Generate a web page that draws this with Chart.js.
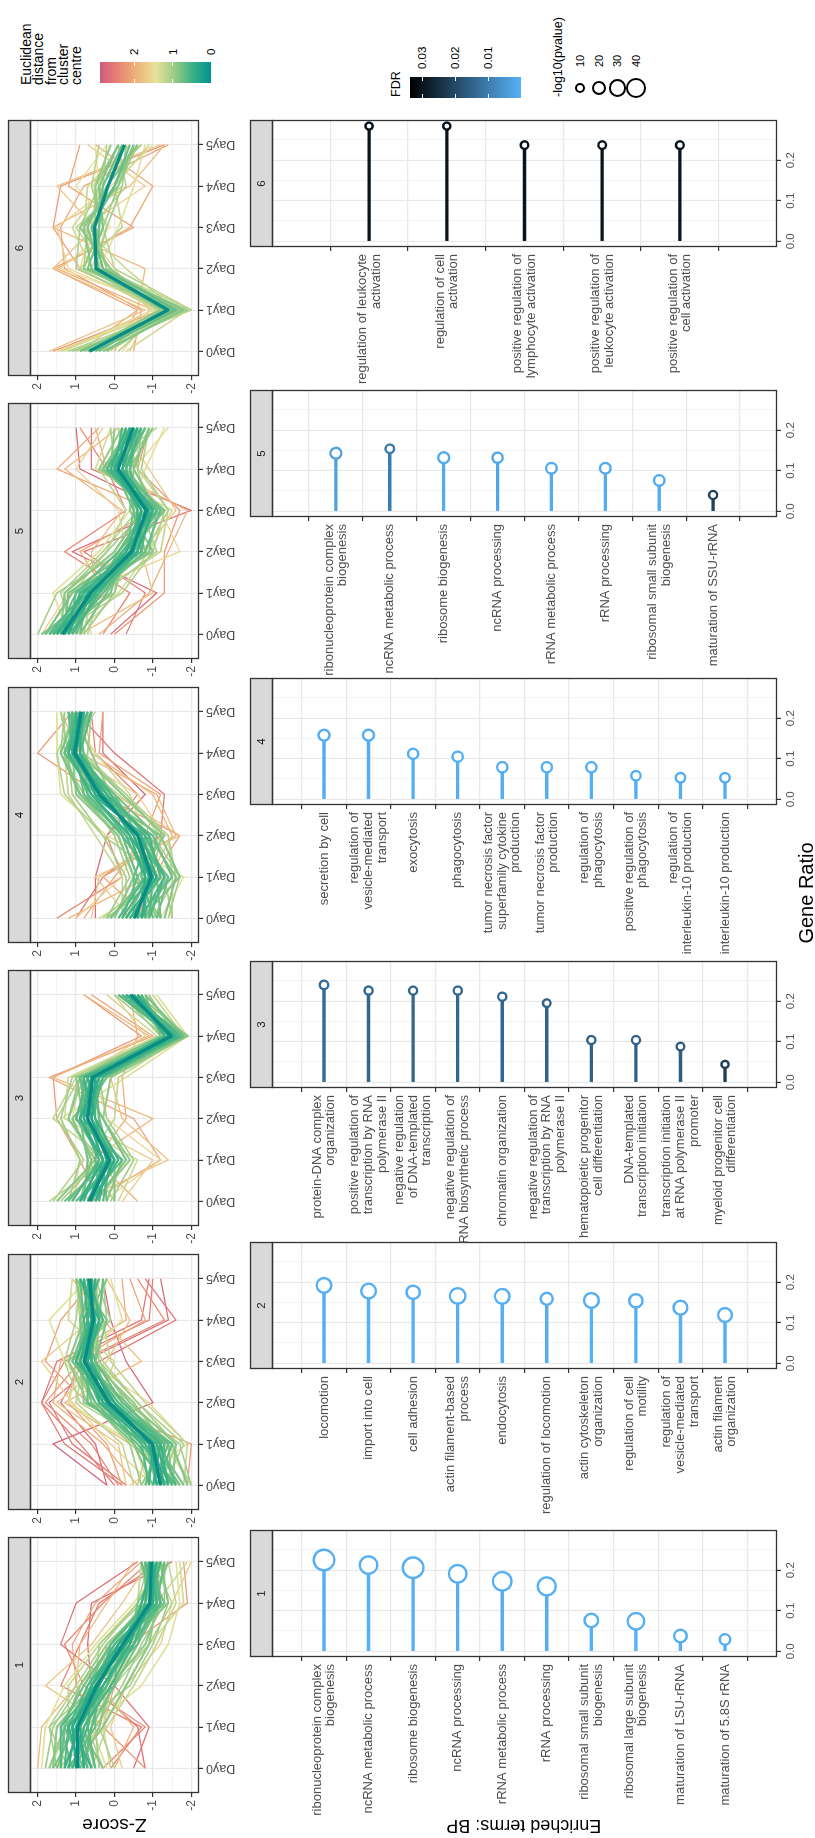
<!DOCTYPE html>
<html>
<head>
<meta charset="utf-8">
<script src="https://cdn.jsdelivr.net/npm/chart.js@4.4.0/dist/chart.umd.min.js"></script>
<style>
  html, body { margin: 0; padding: 0; background: #fff; }
  body { width: 815px; height: 1838px; overflow: hidden; position: relative; }
  /* the figure is laid out landscape and turned a quarter turn anticlockwise */
  #fig { position: absolute; left: 0; top: 0; width: 1838px; height: 815px;
         transform-origin: 0 0; transform: translateY(1838px) rotate(-90deg);
         font-family: "Liberation Sans", Arial, sans-serif; color: #000; background: #fff; }
  #fig canvas { position: absolute; }
  .t { position: absolute; white-space: nowrap; }
</style>
</head>
<body>
<div id="fig"></div>
<script>
// ---------------- data ----------------
const DAYS = ['Day0', 'Day1', 'Day2', 'Day3', 'Day4', 'Day5'];
const Z_TICKS = [-2, -1, 0, 1, 2];
const CLUSTERS = ['1', '2', '3', '4', '5', '6'];

// cluster centres (z-score per day)
const CENTRE_1 = [0.97, 0.96, 0.46, -0.22, -0.92, -0.96];
const CENTRE_2 = [-1.2, -0.98, 0.15, 0.78, 0.55, 0.65];
const CENTRE_3 = [0.65, 0.13, 0.7, 0.57, -1.48, -0.43];
const CENTRE_4 = [-0.52, -0.96, -0.61, 0.39, 1.04, 0.87];
const CENTRE_5 = [1.35, 0.62, -0.45, -0.83, -0.09, -0.48];
const CENTRE_6 = [0.65, -1.39, 0.48, 0.52, 0.17, -0.26];

// gene profiles: [distance from centre, z Day0 .. z Day5]
const GENES_1 = [
  [0.35, 1.0, 1.1, 0.5, -0.3, -1.0, -1.0], [0.4, 0.8, 0.9, 0.4, -0.1, -0.9, -1.1],
  [0.45, 1.2, 1.0, 0.6, -0.2, -1.0, -0.9], [0.5, 0.9, 1.2, 0.3, -0.4, -0.8, -0.9],
  [0.55, 1.1, 0.7, 0.6, 0.0, -1.1, -1.0], [0.6, 0.7, 1.0, 0.2, -0.3, -0.9, -1.2],
  [0.6, 1.3, 1.2, 0.7, -0.1, -1.0, -0.8], [0.65, 0.8, 0.6, 0.3, -0.5, -1.2, -1.0],
  [0.7, 1.4, 1.3, 0.4, -0.2, -0.7, -1.0], [0.7, 0.6, 0.9, 0.5, -0.5, -1.1, -1.3],
  [0.75, 1.1, 1.4, 0.8, 0.1, -0.8, -1.0], [0.8, 1.0, 0.6, 0.0, -0.6, -1.2, -1.1],
  [0.8, 1.5, 1.1, 0.7, 0.1, -0.8, -0.8], [0.85, 0.5, 0.8, 0.2, -0.3, -1.4, -1.2],
  [0.9, 1.6, 1.5, 0.6, -0.3, -1.0, -1.1], [0.9, 0.9, 0.4, 0.1, -0.8, -1.2, -0.9],
  [0.45, 1.3, 0.9, 0.3, -0.4, -0.7, -1.0], [0.5, 0.6, 1.1, 0.6, -0.1, -1.1, -0.9],
  [0.55, 1.0, 0.8, 0.1, -0.5, -0.9, -1.2], [0.6, 1.4, 1.4, 0.5, -0.2, -1.2, -1.0],
  [0.65, 0.5, 0.7, 0.4, 0.1, -0.9, -1.1], [0.7, 1.2, 0.5, 0.5, -0.6, -1.0, -0.7],
  [0.75, 0.8, 1.3, 0.0, -0.1, -1.3, -0.8], [0.8, 1.6, 1.0, 0.3, -0.4, -0.6, -1.2],
  [0.85, 0.3, 0.9, 0.6, -0.4, -1.0, -1.4], [0.9, 1.1, 0.3, -0.3, -0.9, -1.1, -1.1],
  [0.95, 1.7, 1.3, 0.9, 0.2, -0.9, -0.7], [1.0, 0.7, 1.0, -0.4, -1.0, -1.4, -1.2],
  [1.05, 1.5, 1.7, 0.5, 0.4, -0.7, -1.3], [1.1, 0.0, 0.4, 0.2, -0.5, -1.2, -1.0],
  [1.0, 1.8, 1.6, 0.9, 0.0, -0.8, -1.2], [1.0, 0.4, 0.5, -0.2, -0.7, -1.3, -1.3],
  [1.1, 1.2, 1.7, 1.0, 0.3, -0.6, -0.9], [1.1, 0.3, 0.7, 0.0, -0.9, -1.5, -1.0],
  [1.2, 1.7, 1.2, 1.2, 0.4, -0.6, -0.7], [1.2, 0.6, 0.2, -0.5, -1.1, -1.6, -1.4],
  [1.3, 1.4, 0.8, 0.2, -0.9, -1.8, -1.7], [1.3, 0.1, 0.3, 0.1, -0.6, -1.1, -1.9],
  [1.4, 1.9, 1.8, 1.3, 0.5, -0.5, -1.3], [1.4, 0.2, 0.6, -0.7, -1.4, -1.7, -1.6],
  [1.7, -0.2, 0.1, -0.3, -1.2, -1.5, -2.0], [1.8, 1.5, 0.2, 1.8, 0.6, -0.2, -0.9],
  [1.9, 2.0, 1.9, 1.0, 0.9, 0.2, -0.5], [2.0, 0.0, -0.5, 0.4, 0.2, -0.9, -1.2],
  [2.1, 1.2, 0.4, 1.0, 1.1, 0.5, -0.7], [2.2, -0.8, 0.3, 0.0, -0.4, -1.9, -1.8],
  [2.4, 0.3, -0.8, 0.8, 1.3, 0.3, -0.9], [2.6, -0.5, -0.9, 0.0, 1.4, 1.0, -0.6],
  [2.7, -0.8, -0.6, 0.6, 0.7, 0.6, -1.5], [2.5, 0.1, -0.7, 1.4, 0.9, 0.4, -1.2]
];
const GENES_2 = [
  [0.35, -1.3, -1.0, 0.2, 0.8, 0.6, 0.6], [0.4, -1.1, -0.9, 0.0, 0.7, 0.5, 0.7],
  [0.45, -1.4, -1.1, 0.3, 0.9, 0.6, 0.5], [0.5, -1.0, -1.2, 0.1, 0.6, 0.7, 0.8],
  [0.55, -1.5, -0.8, 0.2, 0.9, 0.4, 0.6], [0.6, -1.2, -1.3, -0.1, 0.7, 0.7, 0.5],
  [0.6, -0.9, -0.7, 0.4, 0.9, 0.5, 0.8], [0.65, -1.6, -1.2, 0.0, 0.6, 0.5, 0.7],
  [0.7, -1.3, -0.6, 0.5, 1.0, 0.6, 0.5], [0.7, -1.0, -1.4, -0.2, 0.5, 0.8, 0.9],
  [0.75, -1.7, -1.0, 0.3, 1.1, 0.7, 0.6], [0.8, -0.8, -1.1, 0.1, 0.5, 0.2, 0.9],
  [0.8, -1.4, -0.5, 0.6, 0.8, 0.9, 0.4], [0.85, -1.9, -1.5, -0.2, 0.7, 0.5, 0.6],
  [0.9, -1.1, -0.8, 0.7, 1.2, 0.8, 1.0], [0.9, -1.5, -1.6, -0.4, 0.5, 0.4, 0.5],
  [0.45, -1.2, -0.9, 0.4, 0.7, 0.4, 0.9], [0.5, -1.4, -1.2, 0.0, 1.0, 0.6, 0.7],
  [0.55, -0.9, -1.0, 0.3, 0.6, 0.8, 0.4], [0.6, -1.6, -0.7, 0.1, 0.8, 0.3, 0.7],
  [0.65, -1.1, -1.5, 0.2, 1.0, 0.7, 0.6], [0.7, -1.3, -0.8, 0.7, 0.7, 0.4, 0.3],
  [0.75, -0.8, -1.2, -0.3, 0.8, 0.6, 0.8], [0.8, -1.8, -1.1, 0.4, 0.5, 0.9, 0.6],
  [0.85, -1.0, -0.5, 0.0, 1.1, 0.3, 1.0], [0.9, -1.5, -1.4, 0.8, 0.9, 0.7, 0.2],
  [0.95, -0.7, -1.3, -0.5, 0.6, 0.5, 0.6], [1.0, -1.7, -0.6, 0.5, 1.2, 0.1, 0.5],
  [1.05, -1.2, -1.6, -0.6, 0.4, 0.8, 1.0], [1.1, -2.0, -1.4, 0.2, 0.9, 0.9, 0.9],
  [1.0, -0.7, -0.4, 0.6, 1.0, 0.2, 0.3], [1.0, -2.0, -1.7, -0.3, 0.4, 0.6, 0.8],
  [1.1, -1.3, -1.8, -0.6, 0.3, 0.9, 1.0], [1.1, -0.6, -0.9, 0.9, 1.3, 1.0, 0.9],
  [1.2, -1.8, -1.9, -0.8, 0.1, 0.3, 0.6], [1.2, -0.5, -0.2, 1.0, 0.8, 0.5, 0.2],
  [1.3, -1.2, -1.2, 0.4, 0.0, 1.2, 1.1], [1.4, -2.0, -1.3, 0.5, 1.3, 1.7, 0.7],
  [1.4, -0.9, -0.5, 1.2, 0.9, -0.2, 0.1], [1.6, -0.4, -1.9, -0.9, 0.7, 0.9, 0.8],
  [1.7, -1.0, 0.1, 1.1, 1.9, 0.6, 0.4], [1.8, -0.3, -0.1, 1.5, 0.2, -0.4, 0.2],
  [1.9, -1.6, -0.4, 1.3, -0.7, 0.3, 1.1], [2.0, -0.6, 0.3, 1.6, 1.4, -0.3, -0.2],
  [2.1, -0.2, 0.2, 1.2, 1.0, -0.8, -0.4], [2.2, -1.9, -2.0, 0.7, 1.8, 1.4, 0.5],
  [2.4, -0.1, 0.6, 1.8, 0.9, -1.3, -0.6], [2.5, 0.0, 0.9, 1.9, 1.3, -0.9, -1.0],
  [2.6, -0.3, 1.1, 1.7, 0.4, -1.6, -0.8], [2.7, 0.2, 0.5, 1.4, 0.8, -1.4, -1.2],
  [2.8, 0.2, 1.6, -1.0, -0.3, 0.1, 0.3], [2.6, -0.2, 1.3, 1.9, 1.5, -0.7, -0.9]
];
const GENES_3 = [
  [0.35, 0.7, 0.2, 0.6, 0.5, -1.5, -0.4], [0.4, 0.5, 0.0, 0.8, 0.6, -1.4, -0.5],
  [0.45, 0.9, 0.3, 0.7, 0.4, -1.6, -0.3], [0.5, 0.6, -0.1, 0.5, 0.7, -1.3, -0.6],
  [0.55, 0.8, 0.4, 0.9, 0.6, -1.7, -0.5], [0.6, 0.3, 0.1, 0.6, 0.3, -1.5, -0.2],
  [0.65, 1.0, 0.0, 0.9, 0.8, -1.4, -0.7], [0.7, 0.4, 0.5, 0.4, 0.5, -1.8, -0.4],
  [0.75, 1.2, 0.3, 1.0, 0.6, -1.5, -0.1], [0.8, 0.5, -0.3, 0.3, 0.9, -1.2, -0.8],
  [0.85, 0.9, 0.6, 1.1, 0.2, -1.6, -0.6], [0.9, 0.2, -0.2, 0.8, 1.0, -1.9, -0.3],
  [0.45, 0.6, 0.3, 0.9, 0.4, -1.4, -0.6], [0.5, 0.9, 0.0, 0.6, 0.8, -1.6, -0.3],
  [0.55, 0.4, 0.2, 0.5, 0.5, -1.3, -0.7], [0.6, 1.1, 0.4, 0.8, 0.3, -1.7, -0.4],
  [0.65, 0.7, -0.2, 1.0, 0.7, -1.5, -0.1], [0.7, 0.2, 0.3, 0.7, 0.9, -1.6, -0.6],
  [0.75, 1.3, 0.1, 0.4, 0.5, -1.3, -0.5], [0.8, 0.8, 0.7, 0.9, 0.2, -1.8, -0.8],
  [0.85, 0.0, 0.0, 0.5, 0.6, -1.4, -0.2], [0.9, 1.5, 0.5, 1.2, 0.9, -1.6, -0.4],
  [0.95, 0.5, -0.4, 0.3, 0.1, -1.9, -0.6], [1.0, 1.2, 0.9, 1.4, 1.1, -1.2, -0.2],
  [1.0, 1.4, 0.4, 1.2, 0.8, -1.3, 0.0], [1.0, 0.1, -0.5, 0.2, 0.4, -1.6, -0.9],
  [1.1, 1.6, 0.8, 1.5, 0.9, -1.4, -0.3], [1.2, 0.0, 0.7, 0.0, -0.1, -1.8, -1.0],
  [1.2, 1.7, 0.2, 1.6, 1.0, -1.2, -0.6], [1.3, -0.1, -0.6, 1.3, 1.2, -1.1, 0.2],
  [1.4, 1.1, 0.9, 1.4, -0.3, -1.9, -1.1], [1.6, 0.3, -1.2, 0.2, 0.5, -1.7, -0.8],
  [1.7, -0.2, -1.0, 1.1, 0.9, -0.8, 0.0], [1.8, 0.9, -1.4, -0.2, 0.1, -1.3, -0.9],
  [1.9, 1.2, 0.6, -1.0, 1.6, -0.9, 0.8], [2.0, -0.6, 0.5, -0.3, -0.2, -0.6, -0.4],
  [2.1, 0.6, -1.2, -0.5, 1.7, -1.0, 0.6], [2.2, 0.4, 0.9, 1.5, 1.6, -0.7, 0.8]
];
const GENES_4 = [
  [0.35, -0.5, -1.0, -0.6, 0.4, 1.1, 0.9], [0.4, -0.7, -0.9, -0.5, 0.3, 1.0, 0.8],
  [0.45, -0.3, -1.1, -0.7, 0.5, 1.0, 1.0], [0.5, -0.8, -0.8, -0.4, 0.6, 1.2, 0.9],
  [0.55, -0.4, -1.2, -0.9, 0.2, 0.9, 0.8], [0.6, -0.9, -1.3, -0.6, 0.4, 1.1, 1.1],
  [0.6, -0.1, -0.8, -0.3, 0.6, 1.2, 0.7], [0.65, -1.0, -0.7, -0.8, 0.1, 1.0, 1.0],
  [0.7, -0.6, -1.5, -1.0, 0.5, 1.3, 0.8], [0.7, -0.2, -0.6, -0.2, 0.8, 1.0, 0.9],
  [0.75, -1.2, -1.1, -0.5, 0.3, 0.8, 1.2], [0.8, -0.3, -0.9, -1.1, 0.0, 1.1, 0.6],
  [0.8, -0.8, -1.4, -0.3, 0.9, 1.4, 1.0], [0.85, -1.3, -1.6, -0.9, 0.2, 1.0, 0.9],
  [0.9, 0.0, -0.5, -0.1, 1.0, 1.1, 1.1], [0.9, -1.1, -0.6, -1.3, -0.2, 0.9, 0.7],
  [0.45, -0.6, -0.8, -0.7, 0.5, 0.9, 0.9], [0.5, -0.4, -1.1, -0.4, 0.2, 1.1, 0.8],
  [0.55, -0.7, -1.3, -0.8, 0.6, 1.2, 1.0], [0.6, -0.2, -0.9, -0.5, 0.1, 0.9, 0.6],
  [0.65, -0.9, -1.0, -0.2, 0.7, 1.1, 1.2], [0.7, -0.5, -0.5, -0.9, 0.3, 1.3, 0.9],
  [0.75, -1.1, -1.4, -0.6, 0.0, 1.0, 0.7], [0.8, 0.1, -0.8, -0.4, 0.7, 0.8, 1.0],
  [0.85, -0.7, -1.7, -1.2, 0.4, 1.2, 1.1], [0.9, -1.2, -0.5, -0.1, 0.9, 1.3, 0.6],
  [0.95, 0.2, -1.2, -0.9, 0.1, 0.6, 1.1], [1.0, -1.5, -1.3, -0.7, 0.8, 1.4, 1.3],
  [1.05, -0.3, -0.3, 0.3, 1.1, 1.2, 1.4], [1.1, -1.0, -1.6, -1.4, -0.3, 0.9, 0.9],
  [1.0, 0.2, -0.4, 0.0, 0.8, 0.7, 0.6], [1.0, -1.4, -1.7, -1.0, 0.5, 1.3, 1.3],
  [1.1, -0.6, -1.2, 0.3, 1.3, 1.5, 1.0], [1.1, 0.3, -1.0, -1.2, -0.3, 0.8, 0.9],
  [1.2, -1.5, -1.5, -1.4, -0.1, 1.2, 1.4], [1.2, -0.2, -0.2, 0.5, 1.2, 1.3, 0.5],
  [1.3, 0.4, -1.3, -0.8, -0.4, 0.5, 1.2], [1.4, -1.2, -1.8, 0.2, 1.4, 1.5, 1.5],
  [1.6, 1.0, -0.2, -0.6, 0.4, 1.3, 1.0], [1.7, 0.6, 0.4, -1.3, -0.6, 1.2, 0.9],
  [1.8, -0.4, 0.5, -1.7, 0.0, 1.0, 0.7], [1.9, 1.2, -0.9, -1.5, -1.0, 0.6, 0.8],
  [2.0, -0.9, 0.3, -1.6, -1.1, 0.9, 1.4], [2.1, 0.8, 0.0, -0.8, -1.2, 0.4, 0.3],
  [2.2, -0.6, -1.0, -1.7, 0.4, 2.0, 1.1], [2.4, 1.5, -0.2, 0.2, -0.6, 0.5, 0.6],
  [2.6, 1.0, 0.3, -1.2, -1.3, 0.0, 1.0], [2.7, 0.5, 0.5, 0.2, -0.8, 0.3, 0.3]
];
const GENES_5 = [
  [0.35, 1.4, 0.6, -0.4, -0.9, -0.1, -0.5], [0.4, 1.2, 0.7, -0.5, -0.7, 0.0, -0.6],
  [0.45, 1.5, 0.5, -0.3, -1.0, -0.2, -0.4], [0.5, 1.3, 0.9, -0.6, -0.8, 0.1, -0.3],
  [0.55, 1.6, 0.4, -0.5, -0.6, -0.3, -0.7], [0.6, 1.1, 0.6, -0.2, -1.1, -0.1, -0.5],
  [0.6, 1.7, 0.8, -0.7, -0.9, 0.0, -0.2], [0.65, 1.2, 0.3, -0.6, -0.6, -0.4, -0.6],
  [0.7, 1.5, 1.0, -0.1, -1.0, 0.2, -0.4], [0.7, 1.0, 0.5, -0.8, -1.2, -0.2, -0.8],
  [0.75, 1.8, 0.7, -0.3, -0.5, -0.3, -0.3], [0.8, 1.3, 1.2, -0.4, -1.3, -0.1, -0.6],
  [0.8, 0.9, 0.2, -0.5, -0.9, 0.3, -0.4], [0.85, 1.6, 0.6, -0.9, -1.1, -0.5, -0.9],
  [0.9, 1.4, 1.3, 0.0, -0.7, 0.1, 0.0], [0.9, 1.9, 0.4, -0.8, -0.5, -0.4, -1.0],
  [0.45, 1.3, 0.5, -0.6, -1.0, 0.0, -0.4], [0.5, 1.5, 0.8, -0.3, -0.7, -0.2, -0.6],
  [0.55, 1.1, 0.4, -0.4, -0.9, 0.2, -0.5], [0.6, 1.6, 0.7, -0.6, -0.6, -0.1, -0.3],
  [0.65, 1.2, 1.0, -0.5, -1.1, 0.1, -0.7], [0.7, 1.7, 0.5, -0.1, -0.8, -0.4, -0.5],
  [0.75, 0.9, 0.7, -0.7, -0.5, 0.0, -0.2], [0.8, 1.4, 0.1, -0.2, -1.2, -0.3, -0.8],
  [0.85, 1.8, 1.1, -0.6, -0.9, 0.3, -0.6], [0.9, 1.0, 0.9, -1.0, -0.4, -0.5, -0.4],
  [0.95, 1.6, 0.0, -0.3, -1.3, 0.4, -0.2], [1.0, 1.2, 1.3, 0.2, -0.8, -0.2, -1.0],
  [1.05, 1.9, 0.3, -1.1, -0.7, 0.0, 0.1], [1.1, 0.8, 0.6, -0.8, -1.4, -0.7, -0.9],
  [1.0, 0.8, 0.0, -0.2, -0.9, -0.6, -0.7], [1.0, 2.0, 1.5, -0.2, -1.0, 0.2, -0.5],
  [1.1, 1.1, 1.4, 0.3, -0.6, -0.3, -0.1], [1.1, 1.5, -0.2, -1.0, -1.3, 0.0, -0.8],
  [1.2, 0.7, 0.4, -1.2, -1.4, -0.6, -0.3], [1.2, 1.8, 1.1, 0.2, -0.3, 0.4, -1.1],
  [1.3, 1.0, -0.1, -0.9, -1.5, 0.5, 0.1], [1.4, 1.2, 1.6, 0.4, -0.4, -0.8, -1.3],
  [1.6, 0.6, 0.9, -1.7, -1.2, -0.5, -1.4], [1.7, 1.9, 1.2, -0.3, -0.1, 1.0, 0.3],
  [1.8, 0.9, -1.0, -0.7, -1.6, -0.9, -0.2], [1.9, 1.3, 0.5, 0.6, -0.2, 1.3, -0.1],
  [2.0, 0.4, -0.9, -1.4, -1.9, 0.2, 0.5], [2.1, 1.6, 0.2, 0.9, -1.0, 1.5, 0.4],
  [2.2, 0.0, -1.3, -1.3, -1.7, -0.6, -0.9], [2.4, 0.3, -0.4, 1.3, -0.3, 0.2, 0.9],
  [2.6, -0.3, -0.8, 0.8, -2.0, 0.6, 0.6], [2.7, 0.1, -1.1, 1.1, -1.3, 0.9, 1.0]
];
const GENES_6 = [
  [0.7, 0.5, -1.6, 0.3, 0.6, 0.0, -0.4], [0.8, 0.9, -1.5, 0.7, 0.3, 0.4, -0.1],
  [0.85, 0.3, -1.8, 0.4, 0.7, 0.2, -0.6], [0.9, 0.8, -1.2, 0.1, 0.9, -0.1, -0.5],
  [0.95, 0.2, -1.7, 0.8, 0.4, 0.5, 0.1], [1.0, 1.1, -1.9, 0.5, 0.2, -0.2, -0.3],
  [1.05, 0.6, -1.4, 1.0, 0.9, 0.4, -0.7], [1.1, -0.1, -1.3, 0.2, 0.6, -0.3, -0.1],
  [1.15, 1.0, -2.0, 0.0, 0.3, 0.6, 0.4], [1.2, 0.4, -1.1, 0.9, -0.2, 0.0, -0.9],
  [1.25, 0.7, -1.6, -0.3, 0.8, 0.7, -0.4], [1.3, -0.3, -1.9, 0.6, 1.1, 0.3, -0.2],
  [0.75, 0.7, -1.5, 0.5, 0.4, 0.3, -0.2], [0.85, 0.4, -1.3, 0.6, 0.8, 0.0, -0.5],
  [0.95, 0.9, -1.7, 0.2, 0.5, 0.5, -0.1], [1.0, 0.2, -1.2, 0.7, 0.3, -0.1, -0.6],
  [1.1, 1.2, -1.6, 0.8, 0.7, 0.3, 0.2], [1.2, 0.6, -2.0, 0.3, 1.0, -0.2, -0.3],
  [1.3, 1.4, -1.4, 0.6, 0.2, 0.6, -0.7], [1.45, -0.2, -1.1, 0.9, 0.6, 0.4, 0.5],
  [1.4, 1.3, -1.0, 0.4, -0.1, -0.5, -0.8], [1.5, 0.1, -1.5, 1.4, 0.1, 1.0, 0.2],
  [1.6, 1.5, -1.3, 1.2, 1.5, 0.1, -1.0], [1.7, -0.4, -0.9, 0.0, 0.8, -0.8, 0.7],
  [1.8, 1.7, -0.8, 1.6, 0.5, 1.5, -1.2], [1.9, 0.9, -0.6, -0.8, 1.6, -0.4, -1.3],
  [2.0, 1.4, -1.0, 1.5, -0.4, -1.0, 0.5], [2.1, -0.5, -0.7, 1.3, 1.4, 0.8, -1.4],
  [2.2, 1.6, -1.2, 0.9, 1.6, 1.4, -1.3], [2.1, 0.0, -0.6, 1.6, -0.5, 1.2, 0.9]
];

// enriched BP terms per cluster
const TERMS_1 = [['ribonucleoprotein complex', 'biogenesis'], 'ncRNA metabolic process', 'ribosome biogenesis',
  'ncRNA processing', 'rRNA metabolic process', 'rRNA processing', ['ribosomal small subunit', 'biogenesis'],
  ['ribosomal large subunit', 'biogenesis'], 'maturation of LSU-rRNA', 'maturation of 5.8S rRNA'];
const RATIO_1 = [0.225, 0.2125, 0.206, 0.191, 0.1725, 0.16, 0.076, 0.074, 0.0375, 0.029];
const FDR_1 = [0.0003, 0.0003, 0.0003, 0.0003, 0.0003, 0.0003, 0.0004, 0.0004, 0.0005, 0.0006];
const LOGP_1 = [55, 41, 55, 41, 46, 43, 26, 37, 23, 17];

const TERMS_2 = ['locomotion', 'import into cell', 'cell adhesion', ['actin filament-based', 'process'], 'endocytosis',
  'regulation of locomotion', ['actin cytoskeleton', 'organization'], ['regulation of cell', 'motility'],
  ['regulation of', 'vesicle-mediated', 'transport'], ['actin filament', 'organization']];
const RATIO_2 = [0.192, 0.178, 0.175, 0.166, 0.165, 0.159, 0.155, 0.154, 0.137, 0.119];
const FDR_2 = [0.0003, 0.0003, 0.0004, 0.0003, 0.0003, 0.0005, 0.0003, 0.0004, 0.0004, 0.0004];
const LOGP_2 = [30, 30, 25, 33, 30, 21, 30, 25, 27, 27];

const TERMS_3 = [['protein-DNA complex', 'organization'], ['positive regulation of', 'transcription by RNA', 'polymerase II'],
  ['negative regulation', 'of DNA-templated', 'transcription'], ['negative regulation of', 'RNA biosynthetic process'],
  'chromatin organization', ['negative regulation of', 'transcription by RNA', 'polymerase II'],
  ['hematopoietic progenitor', 'cell differentiation'], ['DNA-templated', 'transcription initiation'],
  ['transcription initiation', 'at RNA polymerase II', 'promoter'], ['myeloid progenitor cell', 'differentiation']];
const RATIO_3 = [0.24, 0.226, 0.226, 0.226, 0.211, 0.195, 0.104, 0.104, 0.088, 0.044];
const FDR_3 = [0.013, 0.014, 0.014, 0.014, 0.014, 0.015, 0.015, 0.015, 0.016, 0.022];
const LOGP_3 = [12, 11, 11, 11, 11, 10, 11, 11, 10, 9];

const TERMS_4 = ['secretion by cell', ['regulation of', 'vesicle-mediated', 'transport'], 'exocytosis', 'phagocytosis',
  ['tumor necrosis factor', 'superfamily cytokine', 'production'], ['tumor necrosis factor', 'production'],
  ['regulation of', 'phagocytosis'], ['positive regulation of', 'phagocytosis'],
  ['regulation of', 'interleukin-10 production'], 'interleukin-10 production'];
const RATIO_4 = [0.158, 0.158, 0.112, 0.105, 0.079, 0.079, 0.079, 0.058, 0.053, 0.053];
const FDR_4 = [0.0005, 0.0005, 0.0006, 0.0006, 0.0006, 0.0006, 0.0006, 0.0007, 0.0007, 0.0007];
const LOGP_4 = [18, 18, 16, 16, 16, 16, 16, 14, 14, 14];

const TERMS_5 = [['ribonucleoprotein complex', 'biogenesis'], 'ncRNA metabolic process', 'ribosome biogenesis',
  'ncRNA processing', 'rRNA metabolic process', 'rRNA processing', ['ribosomal small subunit', 'biogenesis'],
  'maturation of SSU-rRNA'];
const RATIO_5 = [0.143, 0.154, 0.132, 0.132, 0.106, 0.106, 0.076, 0.04];
const FDR_5 = [0.003, 0.010, 0.001, 0.002, 0.001, 0.001, 0.001, 0.021];
const LOGP_5 = [18, 12, 18, 16, 17, 17, 17, 11];

const TERMS_6 = [['regulation of leukocyte', 'activation'], ['regulation of cell', 'activation'],
  ['positive regulation of', 'lymphocyte activation'], ['positive regulation of', 'leukocyte activation'],
  ['positive regulation of', 'cell activation']];
const RATIO_6 = [0.284, 0.284, 0.237, 0.237, 0.237];
const FDR_6 = [0.030, 0.030, 0.030, 0.030, 0.030];
const LOGP_6 = [9, 9, 10, 10, 10];

const RATIO_TICKS = [0, 0.1, 0.2];
const DIST_TICKS = [2, 1, 0];
const FDR_TICKS = [0.03, 0.02, 0.01];
const LOGP_BREAKS = [10, 20, 30, 40];

// ---------------- scales & styling ----------------
const TEMPS = ['#009392', '#39b185', '#9ccb86', '#e9e29c', '#eeb479', '#e88471', '#cf597e'];
const DIST_MAX = 2.9;
const FDR_LOW = '#56B1F7', FDR_HIGH = '#000000', FDR_MAX = 0.0337;
const RATIO_MIN = -0.01425, RATIO_MAX = 0.299;
const GRID_MAJOR = '#e8e8e8', GRID_MINOR = '#efefef', FRAME = '#333333', AXIS_TXT = '#4d4d4d';
const RING_W = 2.4;

function hexRgb(h) { return [1, 3, 5].map(i => parseInt(h.slice(i, i + 2), 16)); }
function mix(a, b, t) {
  const A = hexRgb(a), B = hexRgb(b);
  return 'rgb(' + A.map((v, i) => Math.round(v + (B[i] - v) * t)).join(',') + ')';
}
function distColour(d) {
  const t = Math.max(0, Math.min(1, d / DIST_MAX)) * (TEMPS.length - 1);
  const i = Math.min(TEMPS.length - 2, Math.floor(t));
  return mix(TEMPS[i], TEMPS[i + 1], t - i);
}
// genes close to the centre are drawn a little heavier so the core band reads as a mass
function geneWidth(d) { return d <= 0.95 ? 2.1 : (d <= 1.45 ? 1.6 : 1.25); }
function fdrColour(f) { return mix(FDR_LOW, FDR_HIGH, Math.max(0, Math.min(1, f / FDR_MAX))); }
function ringDiameter(p) { return 3.05 * Math.sqrt(p) + 0.4; }

Chart.defaults.font.family = '"Liberation Sans", Arial, sans-serif';
Chart.defaults.color = AXIS_TXT;

// facet strip on top of each panel plus the panel frame
Chart.register({
  id: 'facet',
  afterDraw(chart, args, o) {
    if (!o || !o.label) return;
    const { ctx, chartArea: a } = chart;
    const w = a.right - a.left;
    ctx.save();
    ctx.fillStyle = '#d9d9d9';
    ctx.fillRect(a.left, a.top - o.h, w, o.h);
    ctx.strokeStyle = FRAME;
    ctx.lineWidth = 1.3;
    ctx.strokeRect(a.left + 0.5, a.top - o.h + 0.5, w - 1, o.h);
    ctx.strokeRect(a.left + 0.5, a.top + 0.5, w - 1, a.bottom - a.top - 1);
    ctx.fillStyle = '#1a1a1a';
    ctx.font = '11.5px "Liberation Sans", Arial, sans-serif';
    ctx.textAlign = 'center';
    ctx.textBaseline = 'middle';
    ctx.fillText(o.label, a.left + w / 2, a.top - o.h / 2 + 0.5);
    ctx.restore();
  }
});

const fig = document.getElementById('fig');
function makeCanvas(left, top, w, h) {
  const c = document.createElement('canvas');
  c.width = w; c.height = h;
  c.style.left = left + 'px'; c.style.top = top + 'px';
  c.style.width = w + 'px'; c.style.height = h + 'px';
  fig.appendChild(c);
  return c;
}
function text(str, left, top, css) {
  const d = document.createElement('div');
  d.className = 't';
  d.textContent = str;
  d.style.left = left + 'px'; d.style.top = top + 'px';
  Object.assign(d.style, css || {});
  fig.appendChild(d);
  return d;
}
function withMinor(major) {
  const out = [];
  major.forEach((v, i) => { out.push(v); if (i < major.length - 1) out.push((v + major[i + 1]) / 2); });
  return out;
}
const isMajor = (list, v) => list.some(m => Math.abs(m - v) < 1e-9);

// ---------------- top row: expression profiles ----------------
const PANEL_W = 256;
function profileChart(k, centre, genes) {
  const left = 45 + 283.4 * k;
  const axisW = 35, H = 240;
  const cv = makeCanvas(Math.round(left - axisW), 0, axisW + PANEL_W + 4, H);
  const ordered = genes.slice().sort((a, b) => a[0] - b[0]);
  const datasets = [{
    data: centre.map((v, i) => ({ x: i, y: v })),
    borderColor: '#088c84', borderWidth: 3.3
  }];
  ordered.forEach(g => datasets.push({
    data: g.slice(1).map((v, i) => ({ x: i, y: v })),
    borderColor: distColour(g[0]), borderWidth: geneWidth(g[0])
  }));
  const zAll = withMinor(Z_TICKS);
  new Chart(cv, {
    type: 'line',
    data: { datasets },
    options: {
      responsive: false, animation: false, devicePixelRatio: 1, events: [],
      layout: { padding: { top: 30, right: 4, left: 0, bottom: 0 } },
      elements: { point: { radius: 0 }, line: { tension: 0, borderJoinStyle: 'round' } },
      plugins: { legend: { display: false }, tooltip: { enabled: false }, facet: { label: CLUSTERS[k], h: 22 } },
      scales: {
        x: {
          type: 'linear', min: -0.6, max: DAYS.length - 0.4,
          afterBuildTicks: s => { s.ticks = DAYS.map((d, i) => ({ value: i })); },
          afterFit: s => { s.height = H - 199; },
          ticks: { callback: v => DAYS[v], minRotation: 90, maxRotation: 90, autoSkip: false,
                   color: AXIS_TXT, font: { size: 12.5 }, padding: 3 },
          grid: { color: GRID_MAJOR, lineWidth: 1.2, tickLength: 4, tickColor: FRAME },
          border: { display: false }
        },
        y: {
          type: 'linear', min: -2.2, max: 2.2,
          afterBuildTicks: s => { s.ticks = zAll.map(v => ({ value: v })); },
          afterFit: s => { s.width = axisW; },
          ticks: { callback: v => isMajor(Z_TICKS, v) ? String(v) : '', autoSkip: false,
                   color: AXIS_TXT, font: { size: 12 }, padding: 3 },
          grid: {
            color: c => isMajor(Z_TICKS, c.tick.value) ? GRID_MAJOR : GRID_MINOR,
            lineWidth: c => isMajor(Z_TICKS, c.tick.value) ? 1.2 : 0.7,
            tickColor: c => isMajor(Z_TICKS, c.tick.value) ? FRAME : 'rgba(0,0,0,0)',
            tickLength: 4
          },
          border: { display: false }
        }
      }
    }
  });
}
[[CENTRE_1, GENES_1], [CENTRE_2, GENES_2], [CENTRE_3, GENES_3],
 [CENTRE_4, GENES_4], [CENTRE_5, GENES_5], [CENTRE_6, GENES_6]].forEach((p, k) => profileChart(k, p[0], p[1]));

// ---------------- bottom row: enrichment lollipops ----------------
const LOLLI_RIGHT = [308, 596, 877, 1160, 1448, 1718];
const LOLLI_W = 127, LOLLI_TOP = 240, LOLLI_H = 815 - 240;
function lollipopChart(k, terms, ratio, fdr, logp) {
  const labelW = 178, padR = 14;
  const left = LOLLI_RIGHT[k] - LOLLI_W - labelW;
  const cv = makeCanvas(left, LOLLI_TOP, labelW + LOLLI_W + padR, LOLLI_H);
  const colours = fdr.map(fdrColour);
  const pts = ratio.map((r, i) => ({ x: r, y: i }));
  const xAll = withMinor([0, 0.1, 0.2, 0.3]).filter(v => v < RATIO_MAX);
  new Chart(cv, {
    type: 'bar',
    data: {
      datasets: [
        { type: 'line', data: pts, showLine: false, clip: false,
          pointRadius: logp.map(p => (ringDiameter(p) - RING_W) / 2),
          pointBorderWidth: RING_W, pointBorderColor: colours, pointBackgroundColor: '#ffffff' },
        { type: 'bar', data: pts, backgroundColor: colours, barThickness: 2.7, borderWidth: 0 }
      ]
    },
    options: {
      indexAxis: 'y',
      responsive: false, animation: false, devicePixelRatio: 1, events: [],
      layout: { padding: { top: 32, right: padR, left: 0, bottom: 0 } },
      plugins: { legend: { display: false }, tooltip: { enabled: false }, facet: { label: CLUSTERS[k], h: 22 } },
      scales: {
        x: {
          type: 'linear', min: RATIO_MIN, max: RATIO_MAX,
          afterBuildTicks: s => { s.ticks = xAll.map(v => ({ value: v })); },
          afterFit: s => { s.height = LOLLI_H - (777 - LOLLI_TOP); },
          ticks: { callback: v => isMajor(RATIO_TICKS, v) ? v.toFixed(1) : '', autoSkip: false, maxRotation: 0,
                   color: AXIS_TXT, font: { size: 11.5 }, padding: 3 },
          grid: {
            color: c => isMajor(RATIO_TICKS, c.tick.value) ? GRID_MAJOR : GRID_MINOR,
            lineWidth: c => isMajor(RATIO_TICKS, c.tick.value) ? 1.2 : 0.7,
            tickColor: c => isMajor(RATIO_TICKS, c.tick.value) ? FRAME : 'rgba(0,0,0,0)',
            tickLength: 4
          },
          border: { display: false }
        },
        y: {
          type: 'linear', reverse: true, min: -0.6, max: terms.length - 0.4,
          afterBuildTicks: s => { s.ticks = terms.map((t, i) => ({ value: i })); },
          afterFit: s => { s.width = labelW; },
          ticks: { callback: v => terms[v], autoSkip: false, color: AXIS_TXT,
                   font: { size: 13, lineHeight: 1.05 }, padding: 3 },
          grid: { color: GRID_MAJOR, lineWidth: 1.2, tickLength: 4, tickColor: FRAME },
          border: { display: false }
        }
      }
    }
  });
}
[[TERMS_1, RATIO_1, FDR_1, LOGP_1], [TERMS_2, RATIO_2, FDR_2, LOGP_2], [TERMS_3, RATIO_3, FDR_3, LOGP_3],
 [TERMS_4, RATIO_4, FDR_4, LOGP_4], [TERMS_5, RATIO_5, FDR_5, LOGP_5], [TERMS_6, RATIO_6, FDR_6, LOGP_6]]
  .forEach((p, k) => lollipopChart(k, p[0], p[1], p[2], p[3]));

// ---------------- axis titles ----------------
function vertical(str, cx, cy, size) {
  return text(str, cx - 150, cy - size * 0.6, { width: '300px', textAlign: 'center', fontSize: size + 'px',
    lineHeight: (size * 1.2) + 'px', transform: 'rotate(-90deg)', transformOrigin: '50% 50%', color: '#000' });
}
vertical('Z-score', 13, 114.5, 19);
vertical('Enriched terms: BP', 13, 524, 18);
text('Gene Ratio', 845, 795, { width: '200px', textAlign: 'center', fontSize: '20px', lineHeight: '22px' });

// ---------------- legends ----------------
// distance colourbar
text('Euclidean\ndistance\nfrom\ncluster\ncentre', 1753, 20,
  { whiteSpace: 'pre', fontSize: '14px', lineHeight: '12.4px' });
function colourbar(left, top, w, h, stops, ticks, maxV, fmt, labelLeft) {
  const bar = document.createElement('div');
  bar.className = 't';
  Object.assign(bar.style, { left: left + 'px', top: top + 'px', width: w + 'px', height: h + 'px',
    background: 'linear-gradient(to top, ' + stops.join(', ') + ')' });
  fig.appendChild(bar);
  ticks.forEach(v => {
    const y = top + h - v / maxV * h;
    [left, left + w - 4].forEach(x => {
      const m = document.createElement('div');
      m.className = 't';
      Object.assign(m.style, { left: x + 'px', top: (y - 0.5) + 'px', width: '4px', height: '1px', background: '#fff' });
      fig.appendChild(m);
    });
    text(fmt(v), labelLeft, y - 7, { fontSize: '11.5px', lineHeight: '14px' });
  });
}
colourbar(1755, 100, 21, 111, TEMPS, DIST_TICKS, DIST_MAX, v => String(v), 1783);

// FDR colourbar
text('FDR', 1741, 389, { fontSize: '12.5px', lineHeight: '14px' });
colourbar(1740, 410, 21, 111, [FDR_LOW, FDR_HIGH], FDR_TICKS, FDR_MAX, v => v.toFixed(2), 1769);

// -log10(pvalue) size keys
text('-log10(pvalue)', 1741, 551, { fontSize: '12.5px', lineHeight: '14px' });
LOGP_BREAKS.forEach((b, i) => {
  const cy = 580 + 18.7 * i, D = ringDiameter(b);
  const c = document.createElement('div');
  c.className = 't';
  Object.assign(c.style, { left: (1750 - D / 2) + 'px', top: (cy - D / 2) + 'px', width: D + 'px', height: D + 'px',
    boxSizing: 'border-box', border: RING_W + 'px solid #000', borderRadius: '50%' });
  fig.appendChild(c);
  text(String(b), 1771, cy - 7, { fontSize: '11px', lineHeight: '14px' });
});
</script>
</body>
</html>
